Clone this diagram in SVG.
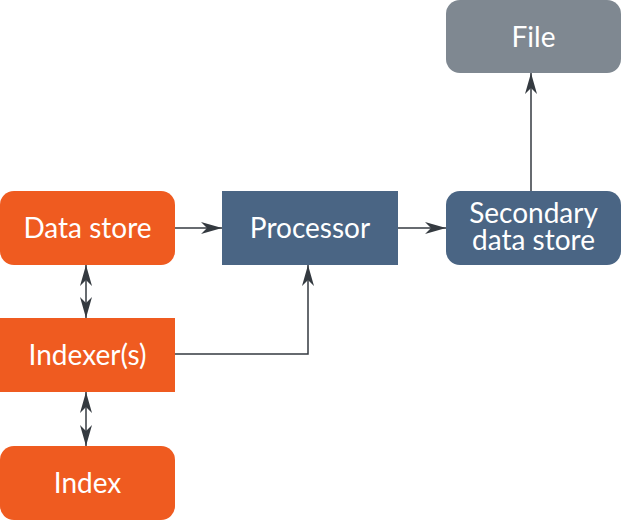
<svg xmlns="http://www.w3.org/2000/svg" width="621" height="520" viewBox="0 0 621 520">
<style>
.orange{fill:#EF5B20}
.blue{fill:#4A6584}
.grey{fill:#7F8891}
.lbl{font-family:Lato,"Open Sans","Liberation Sans",sans-serif;font-size:28px;fill:#fff;text-anchor:middle}
.conn{stroke:#343a40;stroke-width:1.5;fill:none}
</style>
<defs>
<marker id="ah" viewBox="0 0 21 12" refX="21" refY="6" markerWidth="21" markerHeight="12" markerUnits="userSpaceOnUse" orient="auto-start-reverse">
<path d="M0,0 L21,6 L0,12 L6,6 z" fill="#343a40"/>
</marker>
</defs>
<rect width="621" height="520" fill="#fff"/>
<g id="connectors">
<line class="conn" x1="175" y1="228" x2="222" y2="228" marker-end="url(#ah)"/>
<line class="conn" x1="398" y1="228" x2="446" y2="228" marker-end="url(#ah)"/>
<line class="conn" x1="531" y1="191" x2="531" y2="73" marker-end="url(#ah)"/>
<polyline class="conn" points="175,354 308,354 308,265" marker-end="url(#ah)"/>
<line class="conn" x1="86" y1="265" x2="86" y2="318" marker-start="url(#ah)" marker-end="url(#ah)"/>
<line class="conn" x1="86" y1="392" x2="86" y2="446" marker-start="url(#ah)" marker-end="url(#ah)"/>
</g>
<g id="data-store">
<rect class="orange" x="0" y="191" width="175" height="74" rx="14"/>
<text class="lbl" x="87.5" y="238">Data store</text>
</g>
<g id="processor">
<rect class="blue" x="222" y="191" width="176" height="74"/>
<text class="lbl" x="310" y="238">Processor</text>
</g>
<g id="secondary-data-store">
<rect class="blue" x="446" y="191" width="175" height="74" rx="14"/>
<text class="lbl" x="533.5" y="223">Secondary</text>
<text class="lbl" x="533.5" y="250">data store</text>
</g>
<g id="file">
<rect class="grey" x="446" y="0" width="175" height="73" rx="14"/>
<text class="lbl" x="533.5" y="47">File</text>
</g>
<g id="indexers">
<rect class="orange" x="0" y="318" width="175" height="74"/>
<text class="lbl" x="87.5" y="365">Indexer(s)</text>
</g>
<g id="index">
<rect class="orange" x="0" y="446" width="175" height="74" rx="14"/>
<text class="lbl" x="87.5" y="493">Index</text>
</g>
</svg>
